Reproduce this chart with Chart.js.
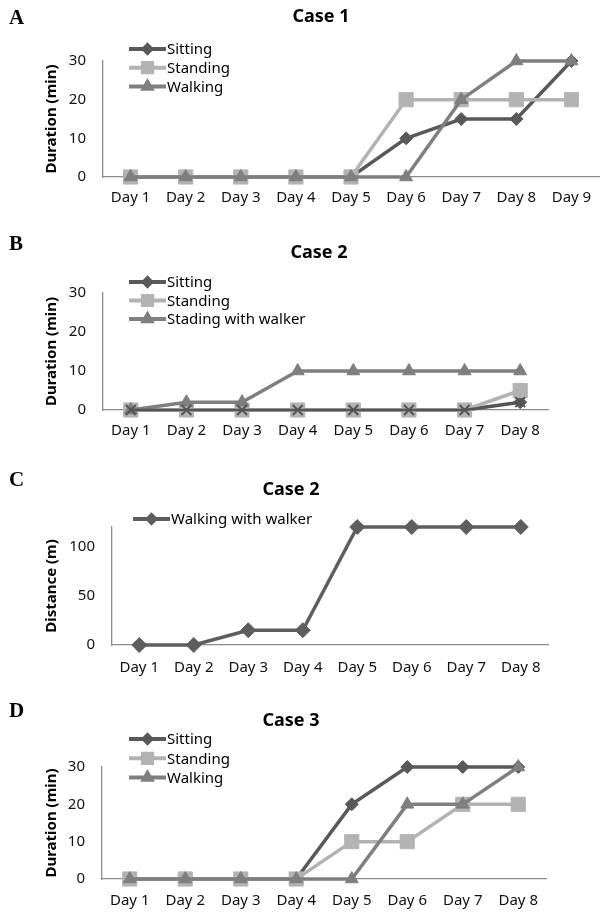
<!DOCTYPE html>
<html>
<head>
<meta charset="utf-8">
<script src="https://cdn.jsdelivr.net/npm/chart.js@4.4.1/dist/chart.umd.min.js"></script>
<style>
    html, body { margin: 0; padding: 0; background: #fff; width: 603px; height: 914px; overflow: hidden; }
    canvas { position: absolute; left: 0; }
</style>
</head>
<body>
<canvas id="panelA" width="610" height="220" style="top:0px"></canvas>
<canvas id="panelB" width="603" height="230" style="top:220px"></canvas>
<canvas id="panelC" width="603" height="230" style="top:450px"></canvas>
<canvas id="panelD" width="603" height="234" style="top:680px"></canvas>
<script>
// Data
const daysNine = ['Day 1', 'Day 2', 'Day 3', 'Day 4', 'Day 5', 'Day 6', 'Day 7', 'Day 8', 'Day 9'];
const daysEight = ['Day 1', 'Day 2', 'Day 3', 'Day 4', 'Day 5', 'Day 6', 'Day 7', 'Day 8'];
const durationTicks = [0, 10, 20, 30];
const distanceTicks = [0, 50, 100];

// A - Case 1
const case1Sitting  = [0, 0, 0, 0, 0, 10, 15, 15, 30];
const case1Standing = [0, 0, 0, 0, 0, 20, 20, 20, 20];
const case1Walking  = [0, 0, 0, 0, 0, 0, 20, 30, 30];

// B - Case 2
const case2Sitting        = [0, 0, 0, 0, 0, 0, 0, 2];
const case2Standing       = [0, 0, 0, 0, 0, 0, 0, 5];
const case2StandingWalker = [0, 2, 2, 10, 10, 10, 10, 10];
const case2Unlabelled     = [0, 0, 0, 0, 0, 0, 0, 2];

// C - Case 2 distance
const case2WalkingWalker = [0, 0, 15, 15, 120, 120, 120, 120];

// D - Case 3
const case3Sitting  = [0, 0, 0, 0, 20, 30, 30, 30];
const case3Standing = [0, 0, 0, 0, 10, 10, 20, 20];
const case3Walking  = [0, 0, 0, 0, 0, 20, 20, 30];

const FONT = '"Noto Sans", "Open Sans", sans-serif';
const colors = { sitting: '#595959', standing: '#b3b3b3', walking: '#7f7f7f' };

const markerStyles = {
    sitting:  { pointStyle: 'rectRot', pointRadius: 6.5, legendRadius: 3.8 },
    standing: { pointStyle: 'rect', pointRadius: 10, legendRadius: 6.5 },
    walking:  { pointStyle: 'triangle', pointRadius: 7.5, legendRadius: 4.5 },
    cross:    { pointStyle: 'crossRot', pointRadius: 7, legendRadius: 5 }
};

function series(label, data, kind, color, extra) {
    const m = markerStyles[kind];
    return Object.assign({
        label: label,
        data: data,
        borderColor: color,
        backgroundColor: color,
        pointBackgroundColor: color,
        pointBorderColor: color,
        borderWidth: 3.5,
        pointBorderWidth: kind === 'cross' ? 2 : 1,
        pointStyle: m.pointStyle,
        pointRadius: m.pointRadius,
        legendRadius: m.legendRadius,
        tension: 0,
        clip: false
    }, extra || {});
}

// draws panel letter, title and the legend of each panel
const panelTextPlugin = {
    id: 'panelText',
    afterDraw(chart, args, opts) {
        const ctx = chart.ctx;
        ctx.save();
        ctx.fillStyle = '#000';
        ctx.textBaseline = 'middle';

        ctx.font = 'bold 21px "Liberation Serif", "Times New Roman", serif';
        ctx.textAlign = 'left';
        ctx.fillText(opts.letter, 9, opts.letterY);

        ctx.font = 'bold 18px ' + FONT;
        ctx.textAlign = 'center';
        ctx.fillText(opts.title, opts.titleX, opts.titleY);

        ctx.font = '15px ' + FONT;
        ctx.textAlign = 'left';
        const items = chart.data.datasets.filter(ds => !ds.noLegend);
        items.forEach((ds, i) => {
            const y = opts.legendY + i * opts.legendGap;
            const x0 = opts.legendX;
            const x1 = x0 + 37;
            ctx.strokeStyle = ds.borderColor;
            ctx.lineWidth = 4;
            ctx.beginPath();
            ctx.moveTo(x0, y);
            ctx.lineTo(x1, y);
            ctx.stroke();
            Chart.helpers.drawPoint(ctx, {
                pointStyle: ds.pointStyle,
                radius: ds.legendRadius,
                rotation: 0,
                borderWidth: 1
            }, (x0 + x1) / 2, y);
            ctx.fillStyle = ds.borderColor;
            ctx.fill();
            ctx.fillStyle = '#000';
            ctx.fillText(ds.label, x1 + 1, y + 1);
        });
        ctx.restore();
    }
};

function makePanel(cfg) {
    const canvas = document.getElementById(cfg.id);
    const H = canvas.height;
    const n = cfg.datasets.length;
    // later series sit on top, like the original
    cfg.datasets.forEach((ds, i) => { ds.order = n - i; });

    return new Chart(canvas.getContext('2d'), {
        type: 'line',
        data: { labels: cfg.labels, datasets: cfg.datasets },
        plugins: [panelTextPlugin],
        options: {
            responsive: false,
            animation: false,
            layout: { padding: { top: cfg.top, right: cfg.right, left: 0, bottom: 0 } },
            plugins: {
                legend: { display: false },
                title: { display: false },
                tooltip: { enabled: false },
                panelText: cfg.text
            },
            scales: {
                x: {
                    offset: true,
                    grid: { display: false, drawTicks: false },
                    border: { color: '#8c8c8c', width: 1.3 },
                    ticks: {
                        autoSkip: false,
                        maxRotation: 0,
                        padding: cfg.xPad,
                        color: '#111',
                        font: { family: FONT, size: 15 }
                    },
                    afterFit: s => { s.height = H - cfg.bottom; }
                },
                y: {
                    min: 0,
                    max: cfg.yMax,
                    grid: { display: false, drawTicks: false },
                    border: { color: '#8c8c8c', width: 1.3 },
                    ticks: {
                        padding: 17,
                        color: '#111',
                        font: { family: FONT, size: 15 }
                    },
                    afterBuildTicks: s => { s.ticks = cfg.yTicks.map(v => ({ value: v })); },
                    title: {
                        display: true,
                        text: cfg.yTitle,
                        color: '#000',
                        font: { family: FONT, size: 15, weight: 'bold' },
                        padding: { top: 43, bottom: 0 }
                    },
                    afterFit: s => { s.width = cfg.axisX; }
                }
            }
        }
    });
}

makePanel({
    id: 'panelA', labels: daysNine, top: 61, bottom: 177, right: 3, axisX: 103, xPad: 12,
    yMax: 30, yTicks: durationTicks, yTitle: 'Duration (min)',
    text: { letter: 'A', letterY: 19, title: 'Case 1', titleX: 321, titleY: 17,
            legendX: 129, legendY: 49, legendGap: 18.7 },
    datasets: [
        series('Sitting', case1Sitting, 'sitting', colors.sitting),
        series('Standing', case1Standing, 'standing', colors.standing),
        series('Walking', case1Walking, 'walking', colors.walking)
    ]
});

makePanel({
    id: 'panelB', labels: daysEight, top: 73, bottom: 190, right: 55, axisX: 103, xPad: 12,
    yMax: 30, yTicks: durationTicks, yTitle: 'Duration (min)',
    text: { letter: 'B', letterY: 25, title: 'Case 2', titleX: 319, titleY: 33,
            legendX: 129, legendY: 62, legendGap: 18.5 },
    datasets: [
        series('Sitting', case2Sitting, 'sitting', colors.sitting),
        series('Standing', case2Standing, 'standing', colors.standing),
        series('Stading with walker', case2StandingWalker, 'walking', colors.walking),
        series('', case2Unlabelled, 'cross', '#555555', { noLegend: true, borderWidth: 2.5 })
    ]
});

makePanel({
    id: 'panelC', labels: daysEight, top: 77, bottom: 195, right: 55, axisX: 112, xPad: 14,
    yMax: 120, yTicks: distanceTicks, yTitle: 'Distance (m)',
    text: { letter: 'C', letterY: 31, title: 'Case 2', titleX: 291, titleY: 40,
            legendX: 133, legendY: 69, legendGap: 19 },
    datasets: [
        series('Walking with walker', case2WalkingWalker, 'sitting', '#5e5e5e', { pointRadius: 7.5 })
    ]
});

makePanel({
    id: 'panelD', labels: daysEight, top: 87, bottom: 199, right: 57, axisX: 102, xPad: 13,
    yMax: 30, yTicks: durationTicks, yTitle: 'Duration (min)',
    text: { letter: 'D', letterY: 32, title: 'Case 3', titleX: 291, titleY: 41,
            legendX: 129, legendY: 59, legendGap: 19.3 },
    datasets: [
        series('Sitting', case3Sitting, 'sitting', colors.sitting),
        series('Standing', case3Standing, 'standing', colors.standing),
        series('Walking', case3Walking, 'walking', colors.walking)
    ]
});
</script>
</body>
</html>
